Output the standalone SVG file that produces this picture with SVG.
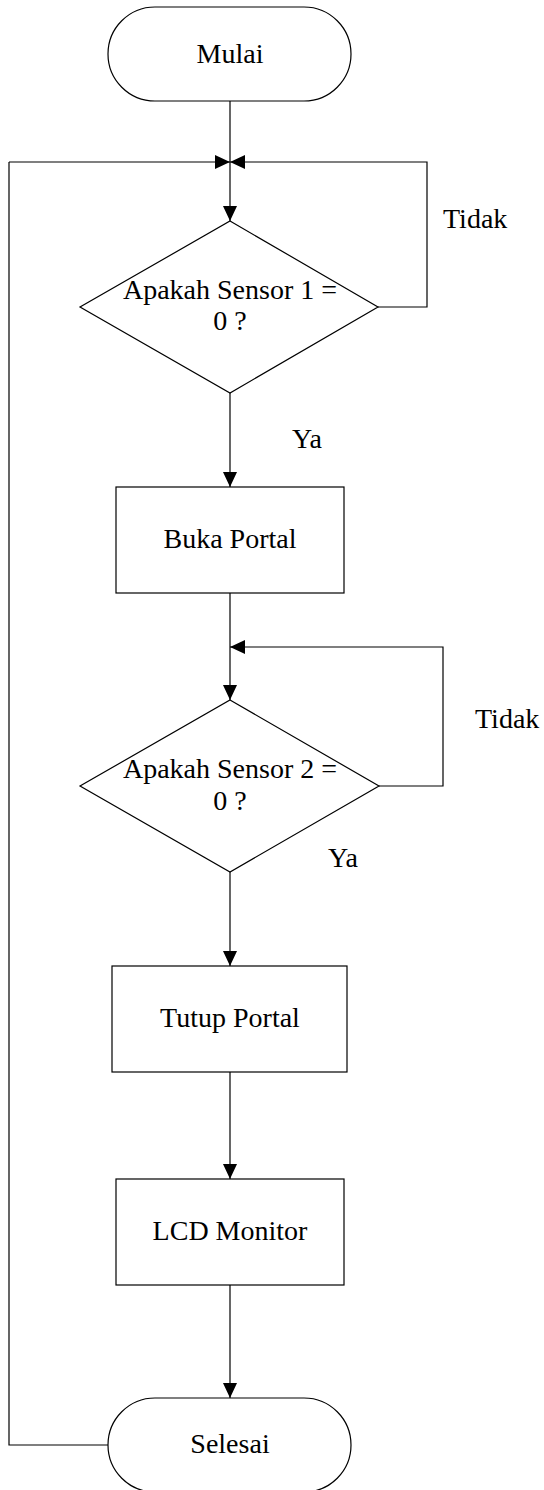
<svg xmlns="http://www.w3.org/2000/svg" width="544" height="1490" viewBox="0 0 544 1490">
<style>
.s{fill:#fff;stroke:#000;stroke-width:1.2}
.c{fill:none;stroke:#000;stroke-width:1.2}
text{font-family:"Liberation Serif","Times New Roman",serif;font-size:28px;fill:#000}
.m{text-anchor:middle}
</style>
<defs>
<marker id="a" markerUnits="userSpaceOnUse" markerWidth="15" markerHeight="14" refX="15" refY="7" orient="auto">
<path d="M0,0 L15,7 L0,14 z" fill="#000"/>
</marker>
</defs>
<rect width="544" height="1490" fill="#fff"/>
<g id="connectors">
<path class="c" d="M230,101 V162"/>
<path class="c" d="M9,162 H230" marker-end="url(#a)"/>
<path class="c" d="M378,307 H427 V162 H230" marker-end="url(#a)"/>
<path class="c" d="M230,162 V221" marker-end="url(#a)"/>
<path class="c" d="M230,393 V487" marker-end="url(#a)"/>
<path class="c" d="M230,593 V700" marker-end="url(#a)"/>
<path class="c" d="M379,786 H443 V647 H230" marker-end="url(#a)"/>
<path class="c" d="M230,872 V966" marker-end="url(#a)"/>
<path class="c" d="M230,1072 V1179" marker-end="url(#a)"/>
<path class="c" d="M230,1285 V1398" marker-end="url(#a)"/>
<path class="c" d="M108,1445 H9 V162"/>
<text x="443" y="228">Tidak</text>
<text x="292" y="448">Ya</text>
<text x="475" y="728">Tidak</text>
<text x="328" y="867">Ya</text>
</g>
<g id="mulai">
<rect class="s" x="108" y="7" width="243" height="94" rx="47" ry="47"/>
<text class="m" x="230" y="63">Mulai</text>
</g>
<g id="sensor1">
<polygon class="s" points="230,221 378,307 230,393 80,307"/>
<text class="m" x="230" y="299">Apakah Sensor 1 =</text>
<text class="m" x="230" y="330">0 ?</text>
</g>
<g id="buka">
<rect class="s" x="116" y="487" width="228" height="106"/>
<text class="m" x="230" y="548">Buka Portal</text>
</g>
<g id="sensor2">
<polygon class="s" points="230,700 379,786 230,872 80,786"/>
<text class="m" x="230" y="778">Apakah Sensor 2 =</text>
<text class="m" x="230" y="810">0 ?</text>
</g>
<g id="tutup">
<rect class="s" x="112" y="966" width="235" height="106"/>
<text class="m" x="230" y="1027">Tutup Portal</text>
</g>
<g id="lcd">
<rect class="s" x="116" y="1179" width="228" height="106"/>
<text class="m" x="230" y="1240">LCD Monitor</text>
</g>
<g id="selesai">
<rect class="s" x="108" y="1398" width="243" height="94" rx="47" ry="47"/>
<text class="m" x="230" y="1453">Selesai</text>
</g>
</svg>
